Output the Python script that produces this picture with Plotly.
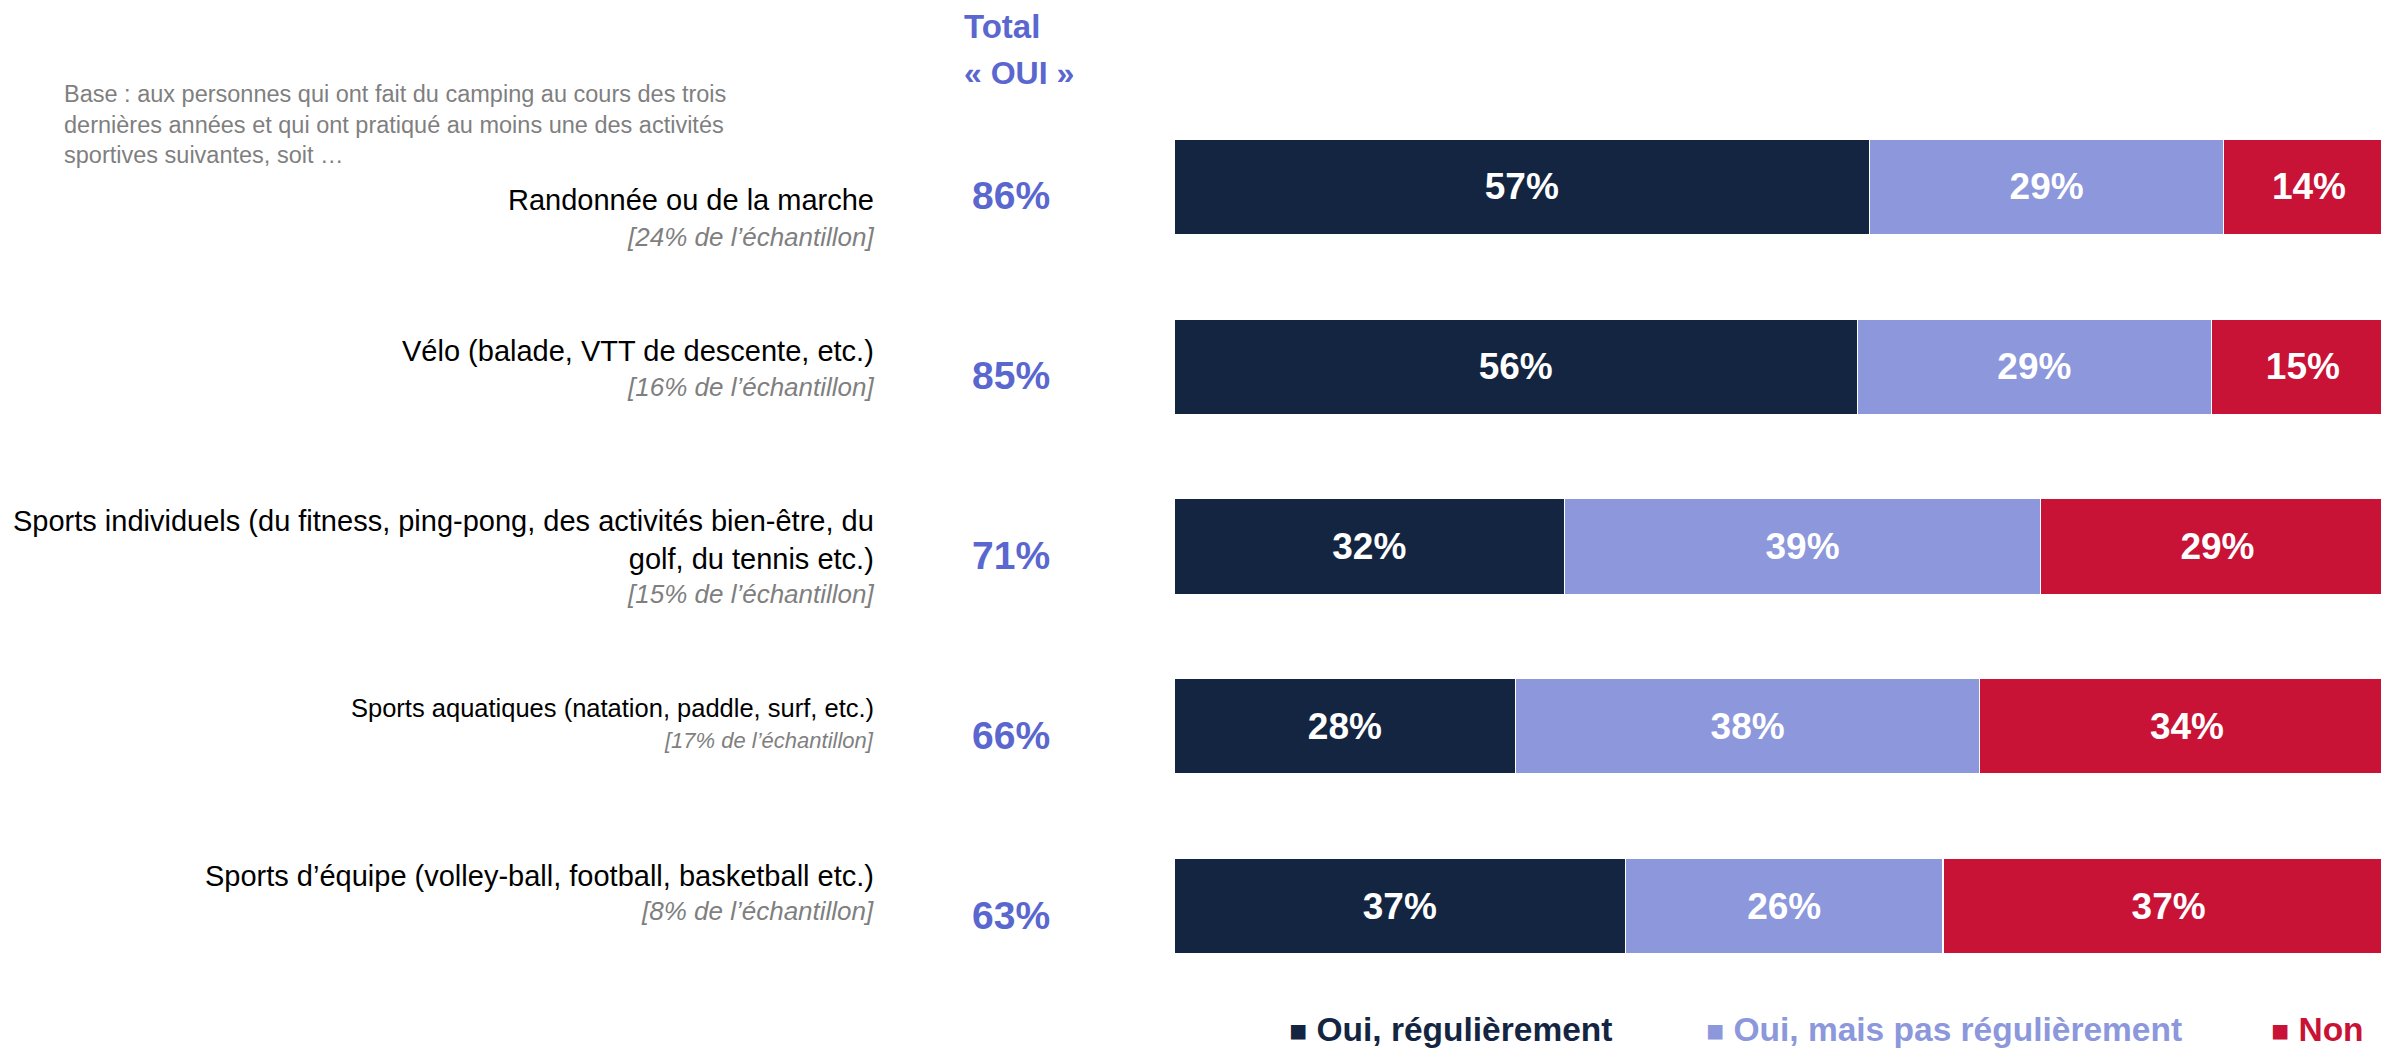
import plotly.graph_objects as go

# ---- data ----
categories = [
    "Randonnée ou de la marche",
    "Vélo (balade, VTT de descente, etc.)",
    "Sports individuels (du fitness, ping-pong, des activités bien-être, du<br>golf, du tennis etc.)",
    "Sports aquatiques (natation, paddle, surf, etc.)",
    "Sports d’équipe (volley-ball, football, basketball etc.)",
]
sample_share = [
    "[24% de l’échantillon]",
    "[16% de l’échantillon]",
    "[15% de l’échantillon]",
    "[17% de l’échantillon]",
    "[8% de l’échantillon]",
]
total_oui = [86, 85, 71, 66, 63]
oui_reg = [57, 56, 32, 28, 37]
oui_pas_reg = [29, 29, 39, 38, 26]
non = [14, 15, 29, 34, 37]
series_names = ["Oui, régulièrement", "Oui, mais pas régulièrement", "Non"]

# ---- styles ----
W, H = 2381, 1048
NAVY = "#142542"
LILAC = "#8C97DC"
RED = "#C81236"
BLUE_TXT = "#5A67CF"
GRAY = "#7F7F7F"
FONT = "Liberation Sans, Arial, sans-serif"

ykeys = [f"c{i}" for i in range(len(categories))]

fig = go.Figure()
for name, vals, col in zip(series_names, [oui_reg, oui_pas_reg, non], [NAVY, LILAC, RED]):
    fig.add_trace(go.Bar(
        y=ykeys, x=vals, orientation="h", name=name,
        marker=dict(color=col, line=dict(color="white", width=1.5)),
        texttemplate="%{x:.0f}%", textposition="inside", insidetextanchor="middle",
        textfont=dict(family=FONT, size=37, color="white", weight="bold"),
        showlegend=False, hoverinfo="skip", cliponaxis=True,
    ))

x0 = 1174 / W
fig.update_layout(
    width=W, height=H, margin=dict(l=0, r=0, t=0, b=0),
    paper_bgcolor="white", plot_bgcolor="white",
    barmode="stack", bargap=0.467,
    xaxis=dict(domain=[x0, 1.0], range=[0, 98.9], visible=False, fixedrange=True),
    yaxis=dict(domain=[(H - 996) / H, (H - 97) / H], autorange="reversed",
               visible=False, categoryorder="array", categoryarray=ykeys),
    showlegend=False,
)

ann = []
# header
ann.append(dict(xref="paper", yref="paper", x=962 / W, y=1 - 26 / H, xanchor="left", yanchor="middle",
                text="Total", showarrow=False,
                font=dict(family=FONT, size=33, color=BLUE_TXT, weight="bold")))
ann.append(dict(xref="paper", yref="paper", x=962 / W, y=1 - 73 / H, xanchor="left", yanchor="middle",
                text="« OUI »", showarrow=False,
                font=dict(family=FONT, size=32, color=BLUE_TXT, weight="bold")))
# base note
ann.append(dict(xref="paper", yref="paper", x=62 / W, y=1 - 125 / H, xanchor="left", yanchor="middle",
                align="left", showarrow=False,
                text="Base : aux personnes qui ont fait du camping au cours des trois<br>"
                     "dernières années et qui ont pratiqué au moins une des activités<br>"
                     "sportives suivantes, soit …",
                font=dict(family=FONT, size=23.5, color=GRAY)))

label_x = 876 / W
main_shift = [-13, 16, 7, 18, 30]
sub_shift = [-50, -20, -47, -14, -5]
main_size = [29, 29, 29, 25.5, 29]
sub_size = [26, 26, 26, 22, 26]
for i, k in enumerate(ykeys):
    ann.append(dict(xref="paper", yref="y", x=label_x, y=k, yshift=main_shift[i],
                    xanchor="right", yanchor="middle", align="right", showarrow=False,
                    text=categories[i],
                    font=dict(family=FONT, size=main_size[i], color="black")))
    ann.append(dict(xref="paper", yref="y", x=label_x, y=k, yshift=sub_shift[i],
                    xanchor="right", yanchor="middle", align="right", showarrow=False,
                    text=f"<i>{sample_share[i]}</i>",
                    font=dict(family=FONT, size=sub_size[i], color=GRAY)))
    ann.append(dict(xref="paper", yref="y", x=1011 / W, y=k, yshift=-9,
                    xanchor="center", yanchor="middle", showarrow=False,
                    text=f"{total_oui[i]}%",
                    font=dict(family=FONT, size=39, color=BLUE_TXT, weight="bold")))

# legend (custom, coloured text)
leg_x = [1287, 1704, 2269]
for name, col, lx in zip(series_names, [NAVY, LILAC, RED], leg_x):
    ann.append(dict(xref="paper", yref="paper", x=lx / W, y=1 - 1029 / H,
                    xanchor="left", yanchor="middle", showarrow=False,
                    text=f"<span style='font-size:30px'>■</span> {name}",
                    font=dict(family=FONT, size=33.5, color=col, weight="bold")))

fig.update_layout(annotations=ann)
fig.write_html(
    "out.html",
    config={"displayModeBar": False},
    post_script="document.body.style.margin='0';document.body.style.overflow='hidden';",
)
